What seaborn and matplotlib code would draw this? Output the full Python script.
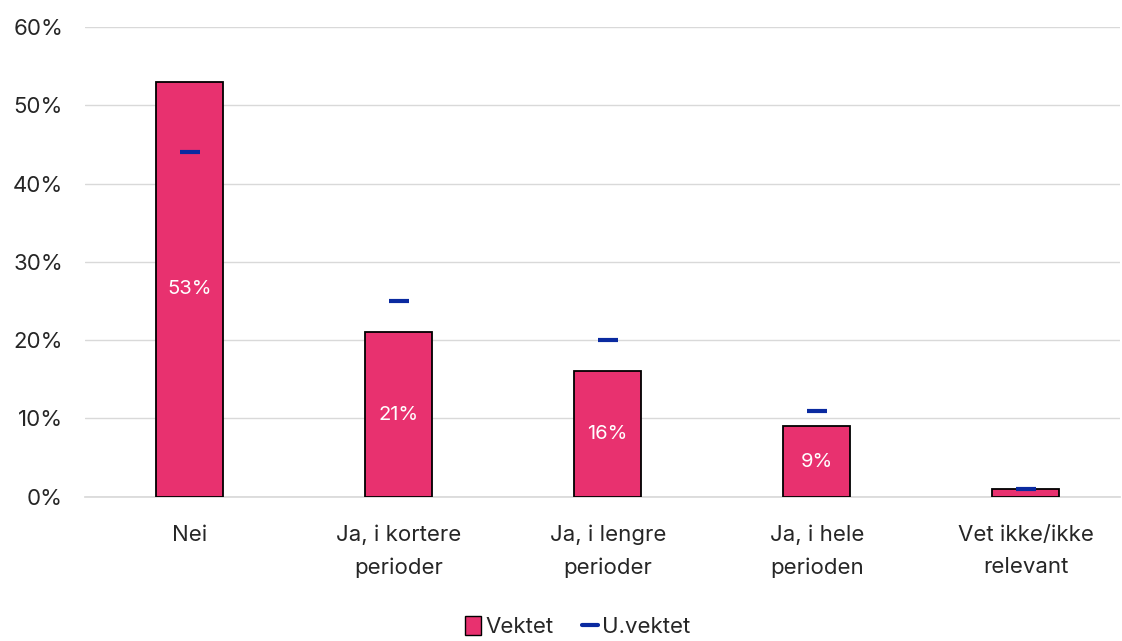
import pandas as pd
import numpy as np
import matplotlib.pyplot as plt
import seaborn as sns
from matplotlib.lines import Line2D
from matplotlib.patches import Patch

categories = ['Nei', 'Ja, i kortere\nperioder', 'Ja, i lengre\nperioder', 'Ja, i hele\nperioden', 'Vet ikke/ikke\nrelevant']
vektet = [53, 21, 16, 9, 1]
uvektet = [44, 25, 20, 11, 1]

pink = '#E8316F'
blue = '#0A2AA0'

sns.set_theme(style='white')
plt.rcParams['font.family'] = ['Inter', 'DejaVu Sans']

df = pd.DataFrame({'kategori': categories, 'Vektet': vektet, 'U.vektet': uvektet})

fig = plt.figure(figsize=(11.22, 6.41), dpi=100)
ax = fig.add_axes([0.076, 0.225, 0.922, 0.733])

sns.barplot(data=df, x='kategori', y='Vektet', color=pink, width=0.32,
            edgecolor='black', linewidth=1.3, saturation=1, ax=ax, zorder=3)
ax.plot(range(len(categories)), uvektet, linestyle='none', marker='_',
        markersize=14, markeredgewidth=3, color=blue, zorder=4)

for i, v in enumerate(vektet):
    if v >= 5:
        ax.text(i, v / 2, f'{v}%', ha='center', va='center', color='white', fontsize=14.5, zorder=5)

ax.set_ylim(0, 60)
ax.set_xlim(-0.5, len(categories) - 0.55)
ax.set_yticks(range(0, 61, 10))
ax.set_yticklabels([f'{t}%' for t in range(0, 61, 10)], fontsize=16)
ax.set_xticks(range(len(categories)))
ax.set_xticklabels(categories, fontsize=16, linespacing=1.75)
ax.tick_params(axis='x', pad=14)
ax.tick_params(axis='y', pad=10)
ax.grid(axis='y', color='#D9D9D9', linewidth=1, zorder=0)
ax.set_axisbelow(True)
for s in ['top', 'right', 'left']:
    ax.spines[s].set_visible(False)
ax.spines['bottom'].set_color('#D9D9D9')
ax.set_xlabel('')
ax.set_ylabel('')

handles = [Patch(facecolor=pink, edgecolor='black', label='Vektet'),
           Line2D([0], [0], color=blue, linewidth=3, label='U.vektet')]
fig.legend(handles=handles, loc='lower center', ncol=2, frameon=False, fontsize=16,
           bbox_to_anchor=(0.515, -0.025), handlelength=0.7, handleheight=0.9,
           handletextpad=0.2, columnspacing=1.3)

fig.savefig('out.png', dpi=100)
